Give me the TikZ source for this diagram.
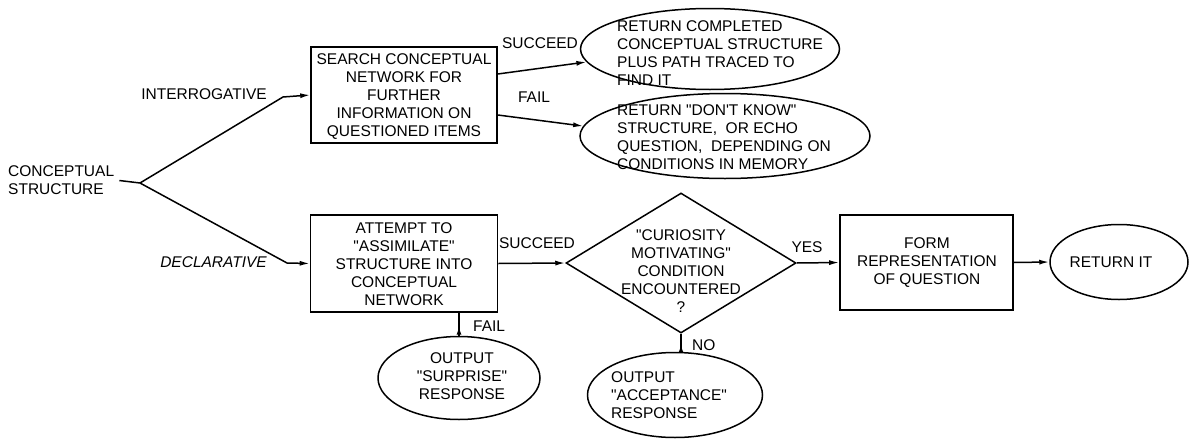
\documentclass[tikz,border=0pt]{standalone}
\usepackage{fontspec}
\newfontfamily\lblfont{Liberation Sans}
\usetikzlibrary{shapes.geometric,arrows.meta,decorations.markings,calc}
\begin{document}
\begin{tikzpicture}[x=1pt,y=-1pt,
  txt/.style={font=\lblfont\fontsize{15.5}{18}\selectfont, inner sep=0pt},
  lab/.style={txt},
  boxnode/.style={draw, line width=1.6pt, rectangle, inner sep=0pt},
  ellnode/.style={draw, line width=1.5pt, ellipse, inner sep=0pt},
  dianode/.style={draw, line width=1.5pt, diamond, inner sep=0pt},
  conn/.style={line width=1.5pt},
  arr/.style={conn, -{Latex[length=10pt,width=5pt]}},
  midarr/.style={conn, postaction={decorate}, decoration={markings, mark=at position 0.6 with {\arrowreversed{Latex[length=8pt,width=5pt]}}}}
]
\path[use as bounding box] (0,0) rectangle (1191,439);

% start
\node[txt, align=left, anchor=west] (cs) at (8,180.5) {CONCEPTUAL\\STRUCTURE};
\coordinate (br) at (140,183);
\coordinate (bi) at (283,97);
\coordinate (bd) at (287,263);

% boxes
\node[boxnode, minimum width=186pt, minimum height=96pt] (search) at (404,95) {};
\node[txt, align=center] (searcht) at (404,97) {SEARCH CONCEPTUAL\\NETWORK FOR\\FURTHER\\INFORMATION ON\\QUESTIONED ITEMS};

\node[boxnode, minimum width=187pt, minimum height=97pt] (att) at (404,263.5) {};
\node[txt, align=center] (attt) at (404,264) {ATTEMPT TO\\"ASSIMILATE"\\STRUCTURE INTO\\CONCEPTUAL\\NETWORK};

\node[boxnode, minimum width=173pt, minimum height=95pt] (form) at (926.5,262.5) {};
\node[txt, align=center] (formt) at (927,263) {FORM\\REPRESENTATION\\OF QUESTION};

% ellipses
\node[ellnode, minimum width=259pt, minimum height=81pt] (ret1) at (710,49) {};
\node[txt, align=left, anchor=west] (ret1t) at (617,53) {RETURN COMPLETED\\CONCEPTUAL STRUCTURE\\PLUS PATH TRACED TO\\FIND IT};

\node[ellnode, minimum width=290pt, minimum height=85pt] (ret2) at (725,136) {};
\node[txt, align=left, anchor=west] (ret2t) at (617,137) {RETURN "DON'T KNOW"\\STRUCTURE,\ \ OR ECHO\\QUESTION,\ \ DEPENDING ON\\CONDITIONS IN MEMORY};

\node[ellnode, minimum width=162pt, minimum height=83pt] (sur) at (459,378) {};
\node[txt, align=center] (surt) at (462,376) {OUTPUT\\"SURPRISE"\\RESPONSE};

\node[ellnode, minimum width=175pt, minimum height=85pt] (acc) at (675,395) {};
\node[txt, align=left, anchor=west] (acct) at (611,395) {OUTPUT\\"ACCEPTANCE"\\RESPONSE};

\node[ellnode, minimum width=138pt, minimum height=75pt] (rit) at (1119,262) {};
\node[txt] (ritt) at (1111,262) {RETURN IT};

% diamond
\node[dianode, minimum width=230pt, minimum height=140pt] (dia) at (681,263) {};
\node[txt, align=center] (diat) at (681,271) {"CURIOSITY\\MOTIVATING"\\CONDITION\\ENCOUNTERED\\?};

% connectors
\draw[conn] (cs.east) ++(5pt,0) -- (br);
\draw[arr] (br) -- (bi) -- (search.west);
\draw[arr] (br) -- (bd) -- (att.west);
\node[lab, anchor=east] (linter) at (267,94) {INTERROGATIVE};
\node[lab, anchor=east, font=\lblfont\itshape\fontsize{15.5}{18}\selectfont] (ldecl) at (267,262) {DECLARATIVE};

\draw[arr] ([yshift=21pt]search.east) -- (ret1.186);
\draw[arr] ([yshift=-20pt]search.east) -- (ret2.176);
\node[lab] (lsucc1) at (540,43) {SUCCEED};
\node[lab] (lfail1) at (534,97) {FAIL};

\draw[arr] (att.east) -- (dia.west);
\node[lab] (lsucc2) at (537,243) {SUCCEED};
\draw[midarr] (sur.north |- att.south) -- (sur.north);
\node[lab, anchor=west] (lfail2) at (473,326) {FAIL};

\draw[arr] (dia.east) -- (form.west);
\node[lab] (lyes) at (807,247) {YES};
\draw[midarr] (dia.south) -- (dia.south |- acc.north);
\node[lab, anchor=west] (lno) at (692,345) {NO};

\draw[arr] (form.east) -- (rit.west);
\end{tikzpicture}
\end{document}
